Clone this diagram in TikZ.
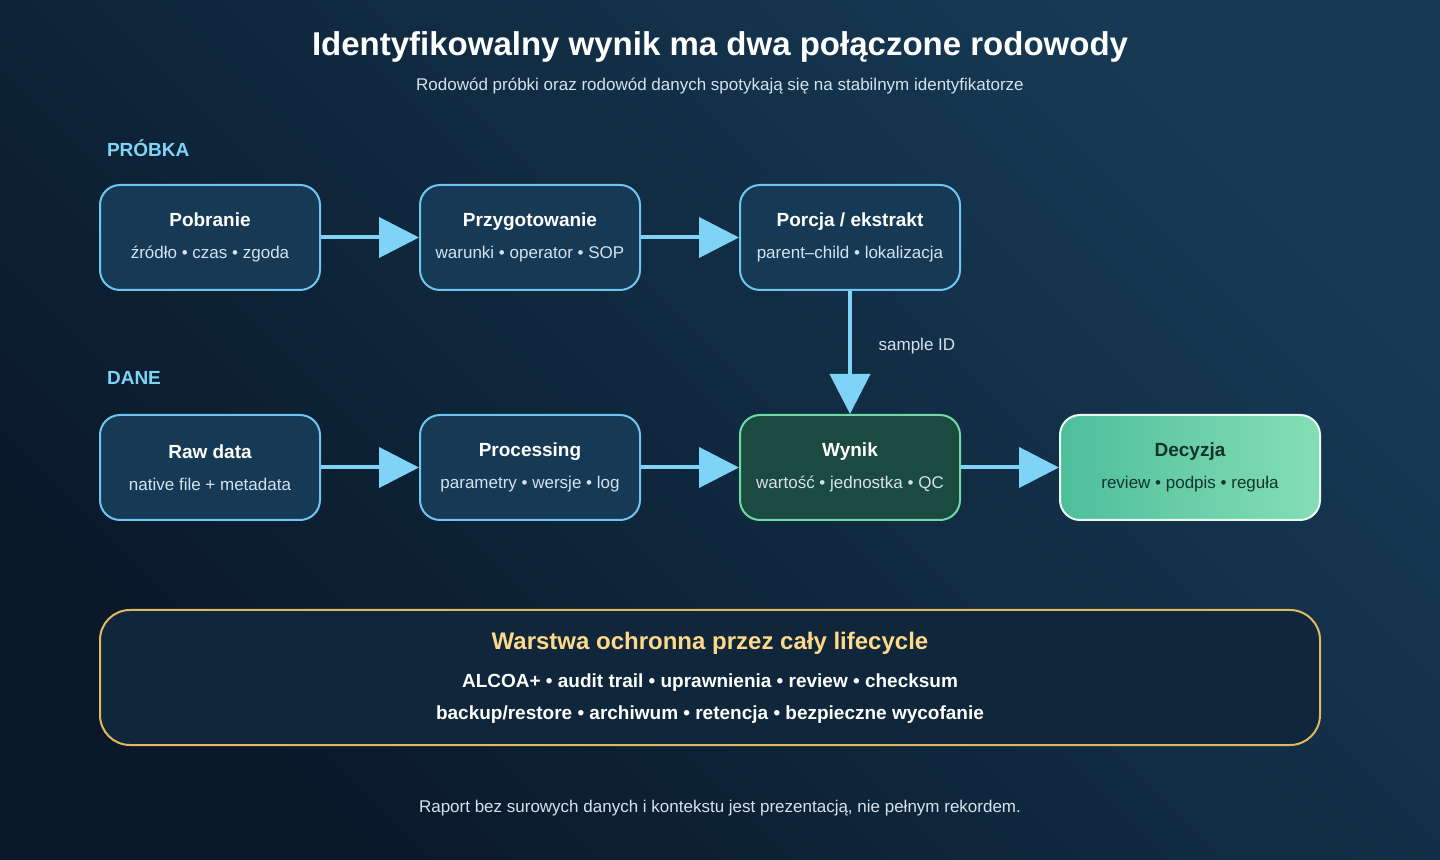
\documentclass[tikz,border=0pt]{standalone}
\usepackage{fontspec}
\setmainfont{Liberation Sans}
\usetikzlibrary{arrows.meta,positioning}
\definecolor{bgA}{HTML}{0A1829}
\definecolor{bgB}{HTML}{163A55}
\definecolor{boxfill}{HTML}{163A55}
\definecolor{boxline}{HTML}{6EC6EE}
\definecolor{okfill}{HTML}{1A4A40}
\definecolor{okline}{HTML}{6FD9A8}
\definecolor{arrowc}{HTML}{7FD3F7}
\definecolor{gold}{HTML}{E0B860}
\definecolor{goldtext}{HTML}{FFD98A}
\definecolor{subtext}{HTML}{D5E2EE}
\begin{document}
\begin{tikzpicture}[x=0.5pt,y=-0.5pt,
  stage/.style={draw=boxline,fill=boxfill,line width=1pt,rounded corners=10pt,
    minimum width=110pt,minimum height=52.5pt,align=center,text=white,inner sep=0pt},
  flow/.style={arrowc,line width=2pt,-{Triangle[length=20pt,width=20pt]}},
  lane/.style={anchor=west,text=arrowc,font=\fontsize{9.5}{11}\selectfont\bfseries}]
\shade[top color=bgA,bottom color=bgB,shading angle=135] (0,0) rectangle (1440,860);
\useasboundingbox (0,0) rectangle (1440,860);
% title
\node[text=white,font=\fontsize{16.5}{18}\selectfont\bfseries] (title) at (720,47) {Identyfikowalny wynik ma dwa połączone rodowody};
\node[text=subtext,font=\fontsize{8.5}{10}\selectfont] (subtitle) at (720,86) {Rodowód próbki oraz rodowód danych spotykają się na stabilnym identyfikatorze};
\node[lane] (lanesample) at (100,148) {PRÓBKA};
\node[lane] (lanedata) at (100,378) {DANE};
% sample lineage
\node[stage] (pobranie) at (210,237.5) {{\fontsize{9.5}{11}\selectfont\bfseries Pobranie}\\[4pt]{\fontsize{8.5}{10}\selectfont\color{subtext}źródło • czas • zgoda}};
\node[stage] (przyg) at (530,237.5) {{\fontsize{9.5}{11}\selectfont\bfseries Przygotowanie}\\[4pt]{\fontsize{8.5}{10}\selectfont\color{subtext}warunki • operator • SOP}};
\node[stage] (porcja) at (850,237.5) {{\fontsize{9.5}{11}\selectfont\bfseries Porcja / ekstrakt}\\[4pt]{\fontsize{8.5}{10}\selectfont\color{subtext}parent–child • lokalizacja}};
% data lineage
\node[stage] (raw) at (210,467.5) {{\fontsize{9.5}{11}\selectfont\bfseries Raw data}\\[4pt]{\fontsize{8.5}{10}\selectfont\color{subtext}native file + metadata}};
\node[stage] (proc) at (530,467.5) {{\fontsize{9.5}{11}\selectfont\bfseries Processing}\\[4pt]{\fontsize{8.5}{10}\selectfont\color{subtext}parametry • wersje • log}};
\node[stage,fill=okfill,draw=okline] (wynik) at (850,467.5) {{\fontsize{9.5}{11}\selectfont\bfseries Wynik}\\[4pt]{\fontsize{8.5}{10}\selectfont\color{subtext}wartość • jednostka • QC}};
\shade[left color=okline!70!teal,right color=okline!85!white,rounded corners=10pt] (1060,415) rectangle (1320,520);
\node[stage,draw=white!85!okline,fill=none,minimum width=130pt,text=okfill!70!black] (decyzja) at (1190,467.5) {{\fontsize{9.5}{11}\selectfont\bfseries Decyzja}\\[4pt]{\fontsize{8.5}{10}\selectfont review • podpis • reguła}};
% arrows
\draw[flow] (pobranie) -- (przyg);
\draw[flow] (przyg) -- (porcja);
\draw[flow] (raw) -- (proc);
\draw[flow] (proc) -- (wynik);
\draw[flow] (wynik) -- (decyzja);
\draw[flow] (porcja) -- node[right=10pt,text=subtext,font=\fontsize{8.5}{10}\selectfont,pos=0.45] {sample ID} (wynik);
% protection layer
\node[draw=gold,fill=bgA!60!boxfill,line width=1pt,rounded corners=15pt,minimum width=610pt,minimum height=67.5pt,
  align=center,text=white,inner sep=0pt] (layer) at (710,677.5)
  {{\fontsize{12}{14}\selectfont\bfseries\color{goldtext}Warstwa ochronna przez cały lifecycle}\\[7pt]
   {\fontsize{9.5}{11}\selectfont\bfseries ALCOA+ • audit trail • uprawnienia • review • checksum}\\[4pt]
   {\fontsize{9.5}{11}\selectfont\bfseries backup/restore • archiwum • retencja • bezpieczne wycofanie}};
\node[text=subtext,font=\fontsize{8.5}{10}\selectfont] (footer) at (720,808) {Raport bez surowych danych i kontekstu jest prezentacją, nie pełnym rekordem.};
\end{tikzpicture}
\end{document}
